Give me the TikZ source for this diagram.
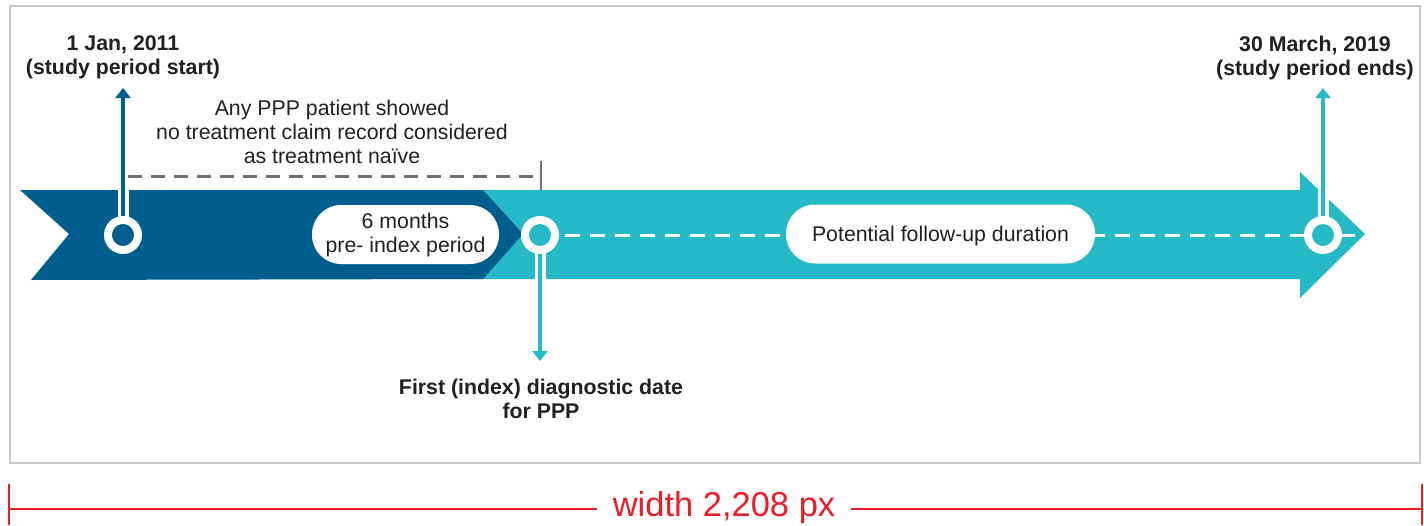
\documentclass[tikz,border=0pt]{standalone}
\usepackage{fontspec}
\setmainfont{Liberation Sans}
\usetikzlibrary{arrows.meta}

\definecolor{ppblue}{RGB}{0,94,143}
\definecolor{ppteal}{RGB}{38,185,198}
\definecolor{pptext}{RGB}{35,31,32}
\definecolor{ppgray}{RGB}{112,112,112}
\definecolor{ppframe}{RGB}{200,200,200}
\definecolor{ppred}{RGB}{237,28,36}

\tikzset{
	txt/.style={text=pptext, align=center, inner sep=0pt, font=\fontsize{21.3pt}{24pt}\selectfont},
	bold/.style={txt, font=\fontsize{21.3pt}{24pt}\selectfont\bfseries},
	pill/.style={txt, fill=white, rounded corners=29pt, minimum height=59pt},
	ring/.style={circle, draw=white, line width=8pt, minimum size=30pt, inner sep=0pt},
	stem/.style={line width=4pt, -{Triangle[width=15pt,length=10pt]}},
	stemborder/.style={line width=11pt, white}
}

\begin{document}
\begin{tikzpicture}[x=1pt, y=-1pt]
	\useasboundingbox (0,0) rectangle (1424,525);
	\draw[ppframe, line width=2pt] (10,6) rectangle (1420,463);

	% the two bands
	\fill[ppteal] (470,190) -- (1300,190) -- (1300,172) -- (1365,234) -- (1300,298) -- (1300,279) -- (470,279) -- cycle;
	\fill[ppblue] (20,190) -- (483,190) -- (523,234) -- (483,279) -- (31,280) -- (69,234) -- cycle;

	\coordinate (p1) at (123,235);
	\coordinate (p2) at (540,235);
	\coordinate (p3) at (1323,235);
	\coordinate (tip1) at (123,88);
	\coordinate (tip2) at (540,361);
	\coordinate (tip3) at (1323,88);
	\coordinate (bandtip) at (1362,235);

	\draw[white, line width=3pt, dash pattern=on 15pt off 10pt] (p2) -- (bandtip);

	\node[pill, minimum width=187pt] (pre) at (405.5,234.5) {6 months\\pre- index period};
	\node[pill, minimum width=309pt, text depth=0pt] (follow) at (940.5,234) {Potential follow-up duration};

	% stems
	\draw[stemborder] (p1) -- (tip1);
	\draw[stemborder] (p2) -- (tip2);
	\draw[stemborder] (p3) -- (tip3);
	\draw[stem, ppblue] (p1) -- (tip1);
	\draw[stem, ppteal] (p2) -- (tip2);
	\draw[stem, ppteal] (p3) -- (tip3);

	\node[ring, fill=ppblue] (start) at (p1) {};
	\node[ring, fill=ppteal] (index) at (p2) {};
	\node[ring, fill=ppteal] (end) at (p3) {};

	% pre-index window
	\coordinate (g1) at (128,176);
	\coordinate (g2) at (541,176);
	\coordinate (g3) at (541,161);
	\coordinate (g4) at (541,190);
	\draw[ppgray, line width=3pt, dash pattern=on 14pt off 9pt] (g1) -- (g2);
	\draw[ppgray, line width=2.5pt] (g3) -- (g4);

	\node[bold] (startlbl) at (123,57.5) {1 Jan, 2011\\(study period start)};
	\node[bold] (endlbl) at (1315,57.5) {30 March, 2019\\(study period ends)};
	\node[txt] (naive) at (332,132) {Any PPP patient showed\\no treatment claim record considered\\as treatment naïve};
	\node[bold] (indexlbl) at (541,399) {First (index) diagnostic date\\for PPP};

	% width ruler
	\coordinate (dimL) at (9,509);
	\coordinate (dimR) at (1422,509);
	\coordinate (tickLa) at (9,484);
	\coordinate (tickLb) at (9,525);
	\coordinate (tickRa) at (1422,484);
	\coordinate (tickRb) at (1422,525);
	\node[text=ppred, inner xsep=16pt, inner ysep=0pt, font=\fontsize{34.5pt}{38pt}\selectfont] (dimtxt) at (724,508) {width 2,208 px};
	\draw[ppred, line width=1.5pt] (dimL) -- (dimL -| dimtxt.west);
	\draw[ppred, line width=1.5pt] (dimR -| dimtxt.east) -- (dimR);
	\draw[ppred, line width=1.5pt] (tickLa) -- (tickLb);
	\draw[ppred, line width=1.5pt] (tickRa) -- (tickRb);
\end{tikzpicture}
\end{document}
